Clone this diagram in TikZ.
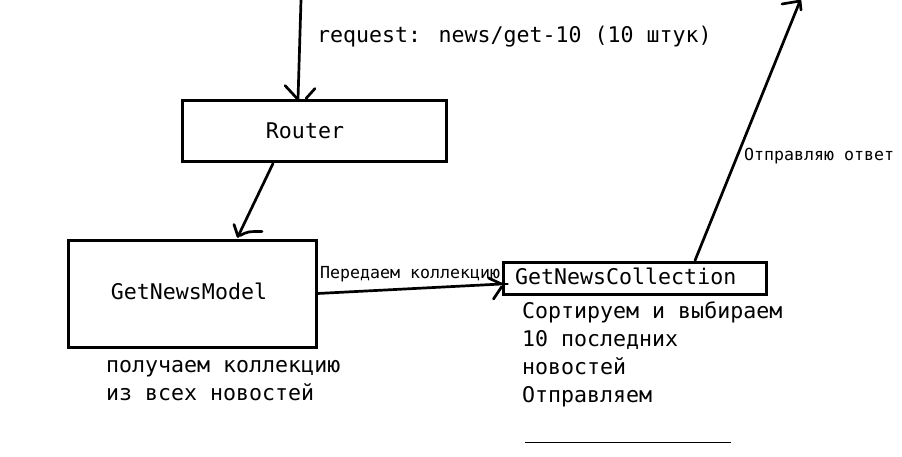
\documentclass[tikz,border=0pt]{standalone}
\usepackage{fontspec}
\newfontfamily\mono{DejaVu Sans Mono}
\usetikzlibrary{calc}
\begin{document}
\begin{tikzpicture}[x=1pt,y=-1pt,
  box/.style={draw, line width=3pt, inner sep=0pt},
  big/.style={font=\mono\fontsize{21.6}{26}\selectfont, inner sep=0pt},
  small/.style={font=\mono\fontsize{16.6}{20}\selectfont, inner sep=0pt},
  conn/.style={line width=2.7pt, line cap=round, line join=round},
  tick/.style={line width=2.7pt, line cap=round}]
\fill[white] (0,0) rectangle (902,457);
\useasboundingbox (0,0) rectangle (902,457);

% boxes
\node[box, minimum width=264pt, minimum height=61pt] (router) at (314,131.5) {};
\node[box, minimum width=248pt, minimum height=107pt] (model) at (192,293.5) {};
\node[box, minimum width=263pt, minimum height=32pt] (coll) at (634.5,278) {};

% box texts
\node[big] (routert) at (305,131) {Router};
\node[big] (modelt) at (189,291.5) {GetNewsModel};
\node[big, anchor=mid west] (collt) at (515,282) {GetNewsCollection};

% free ends
\coordinate (in) at (301,0);
\coordinate (out) at (800,1);

% incoming request
\draw[conn] (in) -- ([shift={(-16,0)}]router.north) coordinate (t1);
\draw[tick] (t1) -- ++(-13,-14);
\draw[tick] ([shift={(8,-1)}]t1) -- ++(9,-10);
\node[big, anchor=mid west] (req) at (317,40.5) {request: news/get-10 (10 штук)};

% router -> model
\draw[conn] ([shift={(-41,0)}]router.south) -- ([shift={(46,-2)}]model.north) coordinate (t2);
\draw[tick] (t2) -- ++(-4,-12);
\draw[tick] ([shift={(2,-1)}]t2) .. controls ([shift={(10,-5)}]t2) .. ([shift={(24,-5)}]t2);

% model -> collection
\draw[conn] (model.east) -- ([shift={(0,6)}]coll.west) coordinate (t3);
\draw[tick] (t3) -- ++(-13,-6);
\draw[tick] ([shift={(0,3)}]t3) -- ++(-8,12);
\draw[tick] (t3) -- ++(6,0);
\node[small, anchor=mid west] (pass) at (320,276) {Передаем коллекцию};

% collection -> response
\draw[conn] ([shift={(60.5,0)}]coll.north) -- (out);
\draw[tick] (out) -- ++(-18,3);
\draw[tick] (out) -- ++(1,9);
\node[small, anchor=mid west] (send) at (744,158.5) {Отправляю ответ};

% descriptions
\node[big, anchor=mid west] (d1) at (106,370.5) {получаем коллекцию};
\node[big, anchor=mid west] (d2) at (106,398.5) {из всех новостей};
\node[big, anchor=mid west] (e1) at (522,316.5) {Сортируем и выбираем};
\node[big, anchor=mid west] (e2) at (522,344.5) {10 последних};
\node[big, anchor=mid west] (e3) at (522,372.5) {новостей};
\node[big, anchor=mid west] (e4) at (522,400.5) {Отправляем};

% bottom rule
\coordinate (ra) at (525,442);
\coordinate (rb) at (731,442);
\draw[line width=1pt] (ra) -- (rb);
\end{tikzpicture}
\end{document}
